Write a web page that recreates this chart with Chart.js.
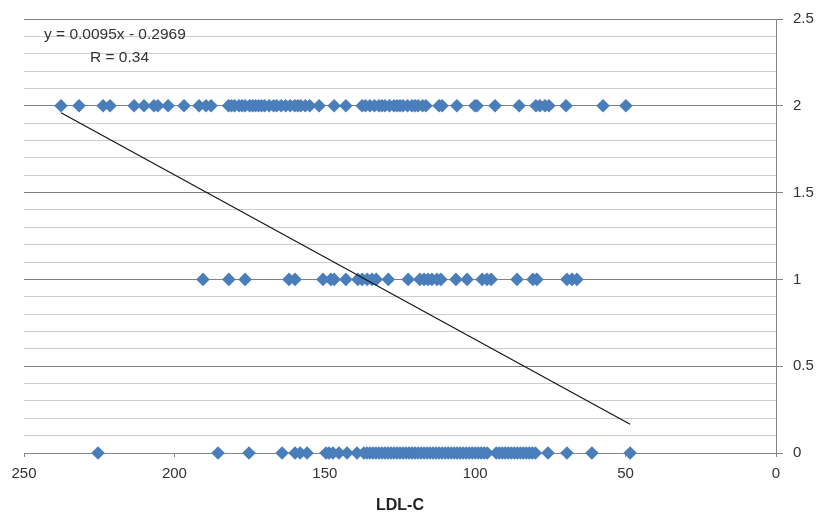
<!DOCTYPE html>
<html>
<head>
<meta charset="utf-8">
<script src="https://cdn.jsdelivr.net/npm/chart.js@4/dist/chart.umd.min.js"></script>
<style>
  html, body { margin: 0; padding: 0; background: #ffffff; }
  #wrap { width: 818px; height: 517px; position: relative; }
</style>
</head>
<body>
<div id="wrap"><canvas id="c" width="818" height="517"></canvas></div>
<script>
// ---- data ----
const groupLevels = [2, 1, 0];

const ldlLevel2 = [237.7, 231.7, 223.7, 221.4, 213.4, 210.1, 206.8, 205.5, 202.1, 196.8, 191.8, 189.5, 187.8,
  182, 181, 180, 178.5, 177.5, 176.5, 175, 174, 173, 172, 171,
  170, 168.5, 167, 166, 164.5, 163, 161.5, 160, 159, 158, 156.5, 155,
  151.9, 146.9, 143.0,
  137.6, 136.5, 135, 133.5, 132, 131, 130, 128.5, 127, 126, 125, 124, 122.5, 121, 120, 119, 117.5, 116.4,
  112.0, 111.0, 106.1, 100.1, 99.4, 93.4, 85.4, 79.8, 78.5, 76.8, 75.5, 69.8, 57.5, 49.9];

const ldlLevel1 = [190.5, 181.9, 176.5, 161.9, 159.9, 150.6, 148.0, 146.9, 143.0, 139.0, 137.6, 135.9, 134.3,
  132.9, 128.9, 122.3, 118.4, 117.0, 115.7, 114.4, 112.7, 111.4, 106.4, 102.7, 97.7, 96.1, 94.7, 86.1,
  80.8, 79.5, 69.5, 67.8, 66.2];

const ldlLevel0 = [225.4, 185.5, 175.2, 164.2, 159.9, 158.2, 155.9, 149.6, 148.6, 147.3, 145.3, 142.6, 139.3,
  137, 136, 135, 134, 133, 132, 131, 130, 129, 128, 127, 126, 125, 124, 123, 122, 121, 120, 119, 118,
  117, 116, 115, 114, 113, 112, 111, 110, 109, 108, 107, 106, 105, 104, 103, 102, 101, 100, 99, 98, 97, 96,
  93, 92, 91, 90, 89, 88, 87, 86, 85, 84, 83, 82, 81, 80,
  75.8, 69.5, 61.2, 48.5];

const trendX = [237.7, 48.5];
const trendY = [1.96, 0.165];

const xTicks = [0, 50, 100, 150, 200, 250];
const yMajorTicks = [0, 0.5, 1, 1.5, 2, 2.5];

const equationText = "y = 0.0095x - 0.2969";
const rText = "R = 0.34";
const xTitle = "LDL-C";

// ---- build chart ----
Chart.defaults.font.family = '"Liberation Sans", Arial, sans-serif';
Chart.defaults.color = '#333333';

const groups = [ldlLevel2, ldlLevel1, ldlLevel0];
const scatterPoints = [];
groups.forEach((arr, i) => arr.forEach(v => scatterPoints.push({ x: v, y: groupLevels[i] })));

const trendPoints = trendX.map((v, i) => ({ x: v, y: trendY[i] }));

function isMajor(v) {
  return yMajorTicks.some(t => Math.abs(t - v) < 1e-6);
}

const eqPlugin = {
  id: 'eqLabel',
  afterDraw(chart) {
    const ctx = chart.ctx;
    ctx.save();
    ctx.fillStyle = '#333333';
    ctx.font = '15.5px "Liberation Sans", Arial, sans-serif';
    ctx.textBaseline = 'middle';
    ctx.textAlign = 'left';
    ctx.fillText(equationText, 44, 35);
    ctx.fillText(rText, 90, 58);
    ctx.restore();
  }
};

new Chart(document.getElementById('c'), {
  type: 'scatter',
  data: {
    datasets: [
      {
        type: 'line',
        data: trendPoints,
        borderColor: '#111111',
        borderWidth: 1.1,
        pointRadius: 0,
        fill: false,
        showLine: true,
        clip: false
      },
      {
        data: scatterPoints,
        pointStyle: 'rectRot',
        pointRadius: 6.8,
        pointBackgroundColor: '#4a7ebb',
        pointBorderColor: '#4a7ebb',
        pointBorderWidth: 0,
        showLine: false,
        clip: false
      }
    ]
  },
  options: {
    responsive: false,
    animation: false,
    layout: { padding: { left: 24, top: 18, right: 0, bottom: 0 } },
    plugins: { legend: { display: false }, tooltip: { enabled: false } },
    scales: {
      x: {
        type: 'linear',
        position: 'bottom',
        reverse: true,
        min: 0,
        max: 250,
        afterBuildTicks(scale) { scale.ticks = xTicks.map(v => ({ value: v })); },
        afterFit(scale) { scale.height = 64; },
        ticks: { font: { size: 15 }, padding: 8, maxRotation: 0, color: '#333333' },
        grid: { drawOnChartArea: false, drawTicks: true, tickLength: 4, color: '#868686' },
        border: { display: true, color: '#868686', width: 1 },
        title: { display: true, text: xTitle, font: { size: 16, weight: 'bold' }, color: '#222222', padding: { top: 0, bottom: 2 } }
      },
      y: {
        type: 'linear',
        position: 'right',
        min: 0,
        max: 2.5,
        afterFit(scale) { scale.width = 42; },
        ticks: {
          stepSize: 0.1,
          padding: 10,
          font: { size: 15 },
          color: '#333333',
          autoSkip: false,
          callback: (v) => isMajor(v) ? String(Math.round(v * 10) / 10) : ''
        },
        grid: {
          drawTicks: true,
          tickLength: 7,
          color: (ctx) => isMajor(ctx.tick ? ctx.tick.value : 0) ? '#808080' : '#cdcdcd',
          tickColor: (ctx) => isMajor(ctx.tick ? ctx.tick.value : 0) ? '#808080' : 'rgba(0,0,0,0)'
        },
        border: { display: true, color: '#868686', width: 1 }
      }
    }
  },
  plugins: [eqPlugin]
});
</script>
</body>
</html>
